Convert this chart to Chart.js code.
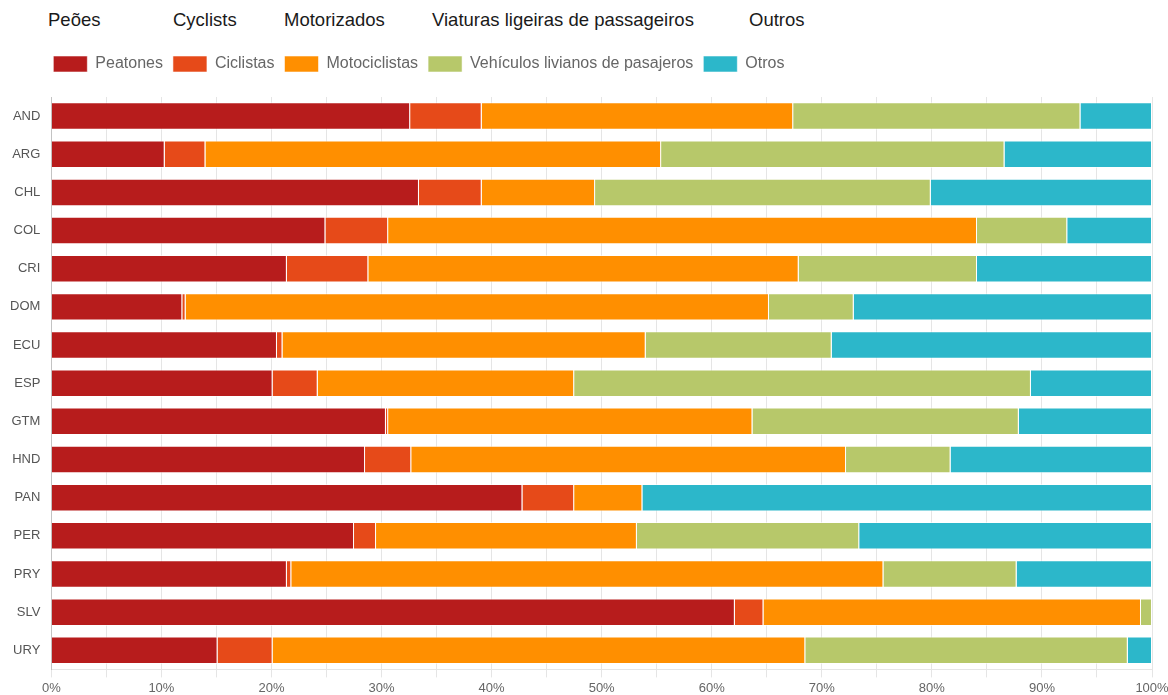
<!DOCTYPE html>
<html>
<head>
<meta charset="utf-8">
<script src="https://cdn.jsdelivr.net/npm/chart.js@4/dist/chart.umd.min.js"></script>
<style>
    html, body { margin: 0; padding: 0; background: #fff; overflow: hidden; }
    #wrap { position: relative; width: 1168px; height: 695px; overflow: hidden; }
    #header span {
        position: absolute;
        top: 9px;
        font-family: 'Liberation Sans', Arial, sans-serif;
        font-size: 18.5px;
        color: #1a1a1a;
        white-space: nowrap;
    }
    canvas { position: absolute; left: 0; top: 0; }
</style>
</head>
<body>
<div id="wrap">
    <div id="header">
        <span style="left:48px">Peões</span>
        <span style="left:173px">Cyclists</span>
        <span style="left:284px">Motorizados</span>
        <span style="left:432px">Viaturas ligeiras de passageiros</span>
        <span style="left:749px">Outros</span>
    </div>
    <canvas id="chart" width="1180" height="699"></canvas>
</div>
<script>
    // paises
    var countries = ['AND', 'ARG', 'CHL', 'COL', 'CRI', 'DOM', 'ECU', 'ESP', 'GTM', 'HND', 'PAN', 'PER', 'PRY', 'SLV', 'URY'];

    // porcentaje de fallecidos por tipo de usuario
    var peatones      = [32.6, 10.3, 33.4, 24.9, 21.4, 11.9, 20.5, 20.1, 30.4, 28.5, 42.8, 27.5, 21.4, 62.1, 15.1];
    var ciclistas     = [6.5, 3.7, 5.7, 5.7, 7.4, 0.3, 0.5, 4.1, 0.2, 4.2, 4.7, 2.0, 0.4, 2.6, 5.0];
    var motociclistas = [28.3, 41.4, 10.3, 53.5, 39.1, 53.0, 33.0, 23.3, 33.1, 39.5, 6.2, 23.7, 53.8, 34.3, 48.4];
    var livianos      = [26.1, 31.2, 30.5, 8.2, 16.2, 7.7, 16.9, 41.5, 24.2, 9.5, 0, 20.2, 12.1, 1.0, 29.3];
    var otros         = [6.5, 13.4, 20.1, 7.7, 15.9, 27.1, 29.1, 11.0, 12.1, 18.3, 46.3, 26.6, 12.3, 0, 2.2];

    var FONT = "'Liberation Sans', Arial, sans-serif";

    // espacio extra bajo la leyenda y corrimiento a la izquierda
    var legendTweak = {
        id: 'legendTweak',
        beforeInit: function(chart) {
            var fit = chart.legend.fit;
            chart.legend.fit = function() {
                fit.bind(chart.legend)();
                this.height += 15;
            };
        },
        afterLayout: function(chart) {
            chart.legend.left -= 8;
        }
    };

    function serie(label, data, color) {
        return {
            label: label,
            data: data,
            backgroundColor: color,
            borderColor: 'rgba(255,255,255,0.55)',
            borderWidth: 1
        };
    }

    new Chart(document.getElementById('chart'), {
        type: 'bar',
        data: {
            labels: countries,
            datasets: [
                serie('Peatones', peatones, '#b71c1c'),
                serie('Ciclistas', ciclistas, '#e64a19'),
                serie('Motociclistas', motociclistas, '#ff8f00'),
                serie('Vehículos livianos de pasajeros', livianos, '#b7c86a'),
                serie('Otros', otros, '#2cb7ca')
            ]
        },
        plugins: [legendTweak],
        options: {
            indexAxis: 'y',
            responsive: false,
            animation: false,
            layout: {
                padding: { left: 7, top: 46, right: 28, bottom: 0 }
            },
            plugins: {
                legend: {
                    position: 'top',
                    align: 'start',
                    fullSize: false,
                    labels: {
                        boxWidth: 34,
                        boxHeight: 16,
                        padding: 10,
                        color: '#666',
                        font: { family: FONT, size: 16 }
                    }
                },
                tooltip: { enabled: false }
            },
            scales: {
                x: {
                    stacked: true,
                    min: 0,
                    max: 100,
                    grid: { color: 'rgba(0,0,0,0.1)' },
                    ticks: {
                        stepSize: 5,
                        autoSkip: false,
                        maxRotation: 0,
                        padding: 3,
                        color: '#666',
                        font: { family: FONT, size: 13 },
                        callback: function(value) {
                            return value % 10 === 0 ? value + '%' : '';
                        }
                    }
                },
                y: {
                    stacked: true,
                    grid: { display: false },
                    border: { display: true, color: 'rgba(0,0,0,0.15)' },
                    ticks: {
                        color: '#555',
                        font: { family: FONT, size: 13 }
                    }
                }
            }
        }
    });
</script>
</body>
</html>
